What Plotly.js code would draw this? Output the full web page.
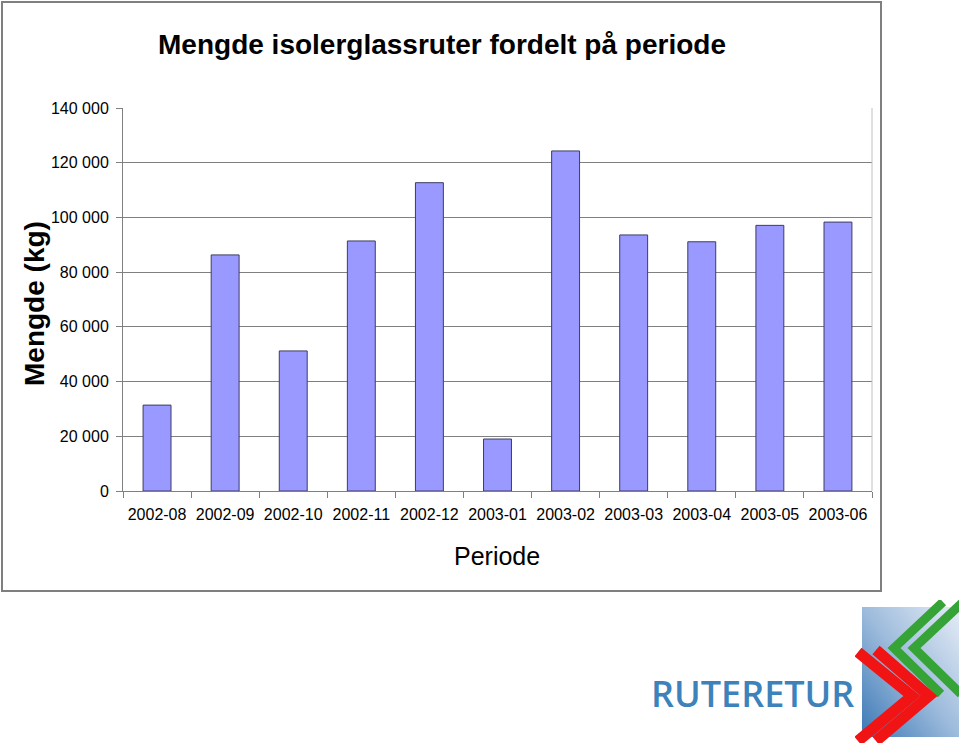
<!DOCTYPE html>
<html>
<head>
<meta charset="utf-8">
<script src="https://cdn.plot.ly/plotly-3.0.1.min.js"></script>
<style>
  body { margin: 0; background: #fff; }
  #chart { width: 959px; height: 743px; }
</style>
</head>
<body>
<div id="chart"></div>
<script>
// data
var periods = ['2002-08', '2002-09', '2002-10', '2002-11', '2002-12', '2003-01',
               '2003-02', '2003-03', '2003-04', '2003-05', '2003-06'];
var amounts = [31400, 86300, 51200, 91400, 112700, 19000,
               124300, 93600, 91100, 97100, 98300];
var yTicks = [0, 20000, 40000, 60000, 80000, 100000, 120000, 140000];

// plot area in pixels
var plotL = 123, plotR = 872, plotT = 108, plotB = 491;
function px2x(px) { return (px - plotL) / (plotR - plotL); }
function py2y(py) { return (plotB - py) / (plotB - plotT); }

// logo graphic (the text is a real annotation)
var logoSvg =
  '<svg xmlns="http://www.w3.org/2000/svg" width="104" height="143" viewBox="0 0 104 143">' +
  '<defs><linearGradient id="g" x1="1" y1="0" x2="0" y2="1">' +
  '<stop offset="0" stop-color="#e6edf6"/><stop offset="0.5" stop-color="#9dbbdc"/>' +
  '<stop offset="1" stop-color="#3a78b5"/></linearGradient></defs>' +
  '<rect x="7" y="7" width="97" height="130" fill="url(#g)"/>' +
  '<polyline points="88,2 39,48 86,94" fill="none" stroke="#36a336" stroke-width="9"/>' +
  '<polyline points="108,2 59,48 106,94" fill="none" stroke="#36a336" stroke-width="9"/>' +
  '<polyline points="3,52 57,96 3,141" fill="none" stroke="#f01414" stroke-width="11"/>' +
  '<polyline points="21,50 74,96 21,141" fill="none" stroke="#f01414" stroke-width="11"/>' +
  '</svg>';

var trace = {
  type: 'bar',
  x: periods,
  y: amounts,
  marker: {color: '#9999ff', line: {color: '#3c3c64', width: 1}},
  hoverinfo: 'x+y'
};

var layout = {
  width: 959,
  height: 743,
  margin: {l: plotL, r: 959 - plotR, t: plotT, b: 743 - plotB},
  paper_bgcolor: '#ffffff',
  plot_bgcolor: '#ffffff',
  separators: ', ',
  bargap: 0.59,
  showlegend: false,
  font: {family: 'Liberation Sans, Arial, sans-serif', color: '#000000'},
  title: {
    text: 'Mengde isolerglassruter fordelt på periode',
    font: {size: 28, weight: 'bold', family: 'Liberation Sans, Arial, sans-serif'},
    xref: 'container', x: 442 / 959, xanchor: 'center',
    yref: 'container', y: 1 - 44 / 743, yanchor: 'middle'
  },
  xaxis: {
    type: 'category',
    showline: true, linecolor: '#808080', linewidth: 1,
    ticks: 'outside', tickson: 'boundaries', ticklen: 6, tickcolor: '#808080',
    tickfont: {size: 16}, ticklabelstandoff: 9,
    showgrid: false, zeroline: false
  },
  yaxis: {
    range: [0, 140000],
    tickvals: yTicks,
    tickformat: ',d',
    showline: true, linecolor: '#808080', linewidth: 1,
    ticks: 'outside', ticklen: 6, tickcolor: '#808080',
    tickfont: {size: 16}, ticklabelstandoff: 4,
    showgrid: true, gridcolor: '#808080', gridwidth: 1,
    zeroline: false
  },
  annotations: [
    {text: 'Mengde (kg)', textangle: -90, showarrow: false,
     xref: 'paper', yref: 'paper', x: px2x(34), y: py2y(304),
     xanchor: 'center', yanchor: 'middle',
     font: {size: 28, weight: 'bold'}},
    {text: 'Periode', showarrow: false,
     xref: 'paper', yref: 'paper', x: px2x(497), y: py2y(556),
     xanchor: 'center', yanchor: 'middle',
     font: {size: 25}},
    {text: 'RUTERETUR', showarrow: false,
     xref: 'paper', yref: 'paper', x: px2x(752), y: py2y(693),
     xanchor: 'center', yanchor: 'middle',
     font: {size: 36, weight: 600, family: 'Open Sans, Noto Sans, sans-serif', color: '#3d82bb'}}
  ],
  shapes: [
    // outer chart frame
    {type: 'rect', xref: 'paper', yref: 'paper',
     x0: px2x(2), x1: px2x(881), y0: py2y(591), y1: py2y(2),
     line: {color: '#7f7f7f', width: 2}, fillcolor: 'rgba(0,0,0,0)', layer: 'below'},
    // right edge of plot area
    {type: 'line', xref: 'paper', yref: 'paper', x0: 1, x1: 1, y0: 0, y1: 1,
     line: {color: '#c0c0c0', width: 1}}
  ],
  images: [
    {source: 'data:image/svg+xml;charset=utf-8,' + encodeURIComponent(logoSvg),
     xref: 'paper', yref: 'paper',
     x: px2x(855), y: py2y(600),
     sizex: px2x(959) - px2x(855), sizey: py2y(600) - py2y(743),
     xanchor: 'left', yanchor: 'top', sizing: 'stretch', layer: 'above'}
  ]
};

Plotly.newPlot('chart', [trace], layout, {displayModeBar: false, staticPlot: true});
</script>
</body>
</html>
